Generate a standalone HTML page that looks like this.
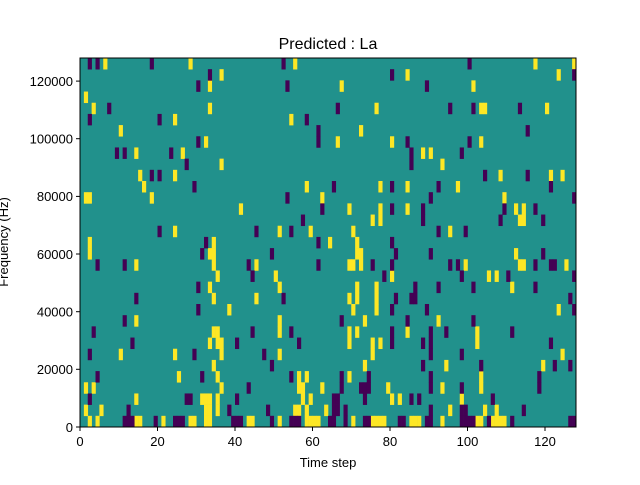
<!DOCTYPE html>
<html><head><meta charset="utf-8"><style>
body{margin:0;background:#fff;width:640px;height:480px;overflow:hidden}
svg text{font-family:"Liberation Sans","DejaVu Sans",sans-serif;fill:#000}
</style></head><body>
<svg id="s" width="640" height="480" xmlns="http://www.w3.org/2000/svg">
<rect x="0" y="0" width="640" height="480" fill="#fff"/>
<rect x="80" y="58" width="496" height="369" fill="#21918c"/>
<g id="cells"></g>
<rect x="80" y="58" width="496" height="369" fill="none" stroke="#000" stroke-width="1"/>
<g stroke="#000" stroke-width="1">
<line x1="80" y1="427" x2="80" y2="431"/><line x1="157.5" y1="427" x2="157.5" y2="431"/><line x1="235" y1="427" x2="235" y2="431"/><line x1="312.5" y1="427" x2="312.5" y2="431"/><line x1="390" y1="427" x2="390" y2="431"/><line x1="467.5" y1="427" x2="467.5" y2="431"/><line x1="545" y1="427" x2="545" y2="431"/>
<line x1="76" y1="427" x2="80" y2="427"/><line x1="76" y1="369.3" x2="80" y2="369.3"/><line x1="76" y1="311.7" x2="80" y2="311.7"/><line x1="76" y1="254" x2="80" y2="254"/><line x1="76" y1="196.4" x2="80" y2="196.4"/><line x1="76" y1="138.7" x2="80" y2="138.7"/><line x1="76" y1="81.1" x2="80" y2="81.1"/>
</g>
<g font-size="13" text-anchor="middle">
<text x="80" y="446">0</text><text x="157.5" y="446">20</text><text x="235" y="446">40</text><text x="312.5" y="446">60</text><text x="390" y="446">80</text><text x="467.5" y="446">100</text><text x="545" y="446">120</text>
</g>
<g font-size="13" text-anchor="end">
<text x="73" y="432">0</text><text x="73" y="374">20000</text><text x="73" y="316.5">40000</text><text x="73" y="259">60000</text><text x="73" y="201">80000</text><text x="73" y="143.5">100000</text><text x="73" y="86">120000</text>
</g>
<text x="328" y="49" font-size="16" text-anchor="middle">Predicted : La</text>
<text x="328" y="467" font-size="13" text-anchor="middle">Time step</text>
<text transform="translate(8,242) rotate(-90)" font-size="13" text-anchor="middle">Frequency (Hz)</text>
</svg>
<script>
var Y={0:[6,28,55,117,127],1:[36,84,123],2:[33,67,101],3:[1],4:[3,33,76,103,104,120],5:[24,54],6:[10,72],7:[32,66,80,103],8:[14,26,88,90],9:[36,93],10:[15,24,108,121,124],11:[16,58,77,84,97],12:[1,2,18,62,109],13:[41,69,77,84,112,114],14:[75,77,113,114],15:[24,51,59,70,95],16:[2,34,64,71],
17:[2,33,34,71,72,112],18:[14,34,45,69,70,72,99,113,114,125],19:[35,50,80,105,107],20:[33,51,71,76,111],21:[34,45,69,71,76],22:[38,70,76,123],23:[14,51,73,92],24:[34,35,51,69,71,84,102],25:[33,35,36,69,75,77,102],26:[10,24,36,51,75,124],27:[34,73,94,119],28:[25,35,56,58,69,103],29:[1,3,36,56,57,62,79,93,103],30:[14,31,32,33,35,57,59,80,82,98],31:[1,5,32,33,35,55,56,58,63,95,104,107],32:[2,4,14,15,21,28,29,32,33,43,44,51,58,59,60,61,70,75,76,77,78,85,86,87,93,102,103,106,107,108,109]};
var P={0:[2,4,18,52,100],1:[33,80,127],2:[30,53,89],4:[7,66,95,101,113],5:[2,20,58],6:[61,115],7:[30,61,84,100],8:[9,11,23,85,98],9:[27,85],10:[18,20,104,115],11:[29,65,80,92,121],12:[53,90,127],13:[62,80,88,109,117],14:[57,88,108,119],15:[20,45,54,92,99],16:[32,61,80],
17:[31,49,81,90,119],18:[4,11,43,61,75,80,95,97,117,121,122],19:[44,78,98,110,127],20:[30,86,92,101,117],21:[14,52,81,85,86,126],22:[30,80,89,127],23:[11,67,84,101],24:[3,44,54,80,90,94,111],25:[13,40,56,80,88,90,121],26:[2,29,47,90,98],27:[49,88,103,122,126],28:[4,31,54,67,74,90,118],29:[43,67,72,73,74,90,98,118],30:[2,27,28,40,65,66,73,85,87,106],31:[12,38,48,65,66,68,90,98,99,114],32:[11,12,13,19,24,25,26,39,40,41,49,54,55,56,64,65,68,73,74,82,83,89,90,98,99,100,101,105,111,126,127]};
var h='',cw=496/128,rh=369/33;
function add(o,c){for(var r in o){o[r].forEach(function(k){h+='<rect x="'+(80+k*cw).toFixed(2)+'" y="'+(58+r*rh).toFixed(2)+'" width="'+(cw+0.3).toFixed(2)+'" height="'+(rh+0.3).toFixed(2)+'" fill="'+c+'"/>';});}}
add(Y,'#fde725');add(P,'#440154');
document.getElementById('cells').innerHTML=h;
</script>
</body></html>
